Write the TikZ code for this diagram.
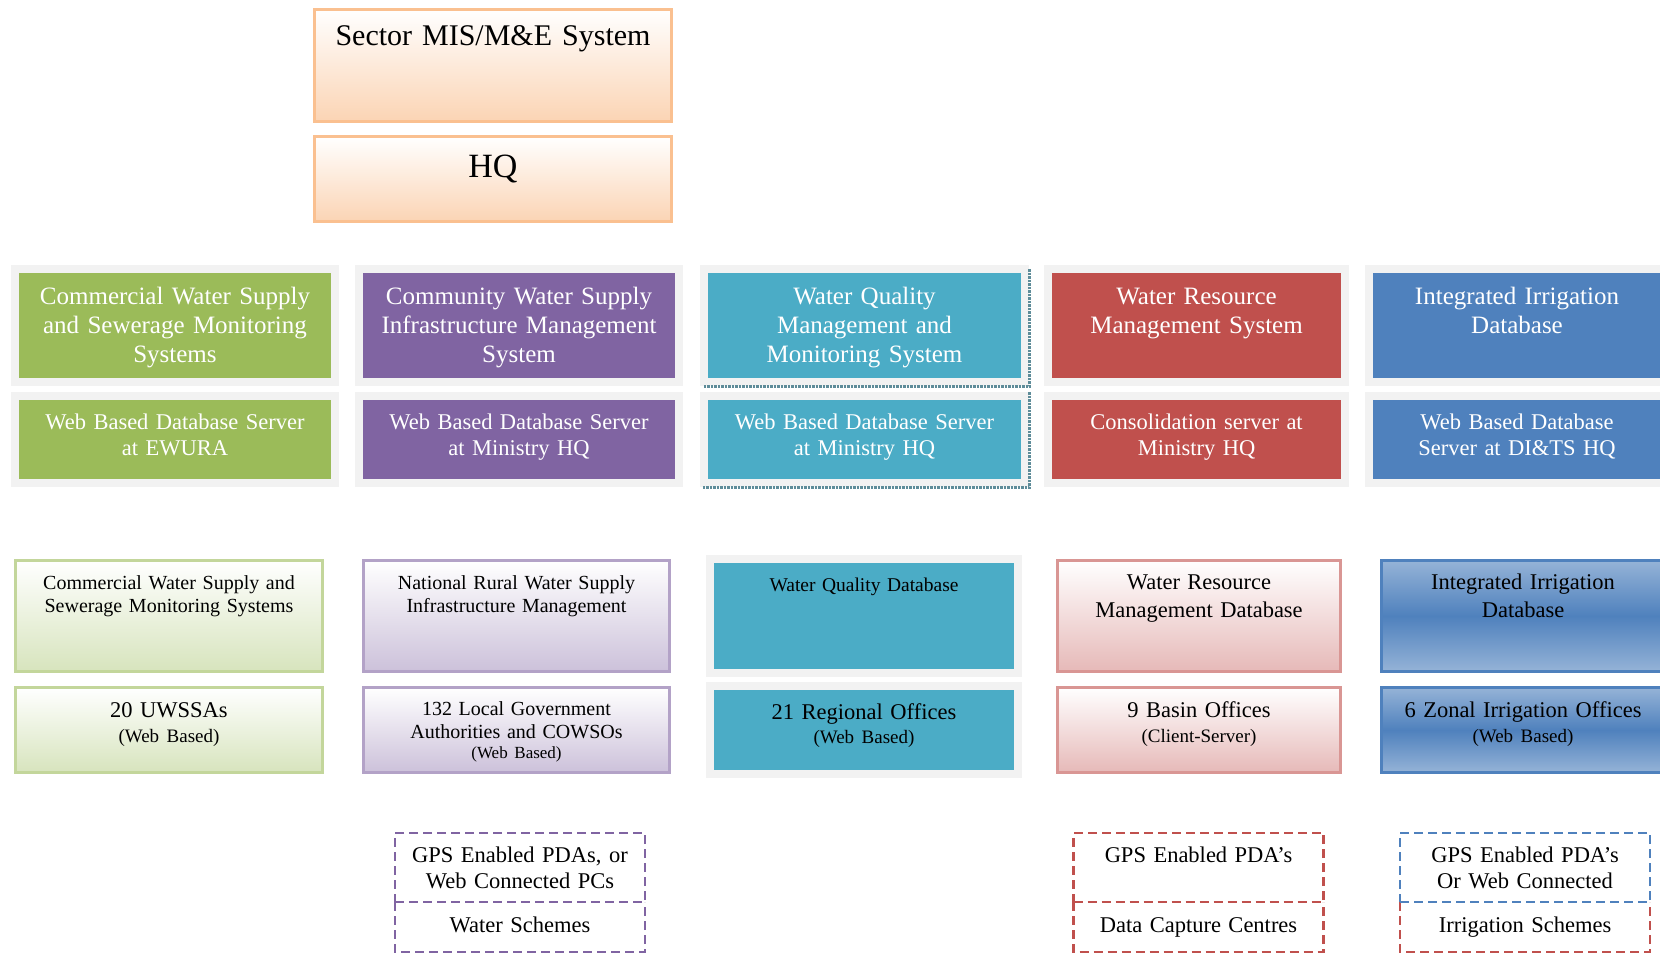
\documentclass[tikz,border=0pt]{standalone}
\usepackage{fontspec}
\setmainfont{Liberation Serif}
\usetikzlibrary{positioning}

\definecolor{panelgray}{HTML}{F2F2F2}
\definecolor{peachline}{HTML}{FAC090}
\definecolor{peachfill}{HTML}{FBD4B4}
\definecolor{accgreen}{HTML}{9BBB59}
\definecolor{accpurple}{HTML}{8064A2}
\definecolor{accteal}{HTML}{4BACC6}
\definecolor{accred}{HTML}{C0504D}
\definecolor{accblue}{HTML}{4F81BD}
\definecolor{greenline}{HTML}{C3D69B}
\definecolor{greenfill}{HTML}{D7E4BD}
\definecolor{purpleline}{HTML}{B3A2C7}
\definecolor{purplefill}{HTML}{CCC1DA}
\definecolor{redline}{HTML}{D99694}
\definecolor{redfill}{HTML}{E6B9B8}
\definecolor{bluelight}{HTML}{95B3D7}
\definecolor{shadowteal}{HTML}{5E8C99}

\begin{document}
\begin{tikzpicture}[
    x=1pt, y=-1pt,
    every node/.style={inner sep=0pt, outer sep=0pt, align=center},
    hqbox/.style={draw=peachline, line width=3pt, top color=white, bottom color=peachfill, text width=357pt},
    sysbox/.style={fill=#1, text=white, preaction={draw=panelgray, line width=16pt}},
    systop/.style={text height=31pt, text depth=74pt, font=\fontsize{25}{29}\selectfont},
    syssrv/.style={text height=29pt, text depth=50pt, font=\fontsize{22.5}{26}\selectfont},
    dbbox/.style={draw=#1line, line width=3pt, top color=white, bottom color=#1fill},
    irrbox/.style={draw=accblue, line width=3pt, top color=bluelight, bottom color=bluelight, middle color=accblue},
    dbtop/.style={text height=28.5pt, text depth=82.5pt, font=\fontsize{20}{23}\selectfont},
    dbsite/.style={text height=29.5pt, text depth=55.5pt, font=\fontsize{22.5}{25}\selectfont},
    gpsline/.style={draw=#1, dash pattern=on 9pt off 5pt, line width=2.5pt},
    gpsbox/.style={text width=250pt, font=\fontsize{22.5}{26}\selectfont},
    gpstop/.style={text height=29pt, text depth=40pt},
    gpsend/.style={text height=30pt, text depth=20pt}
]

\useasboundingbox (0,0) rectangle (1660,954);
\clip (0,0) rectangle (1660,954);

% Sector system and HQ (top)
\node[hqbox, anchor=north, text height=35.5pt, text depth=76.5pt, font=\fontsize{30}{36}\selectfont] (mis) at (493,9.5) {Sector MIS/M\&E System};
\node[hqbox, below=15pt of mis, text height=40.5pt, text depth=44.5pt, font=\fontsize{34}{40}\selectfont] (hq) {HQ};

% Systems and their servers
\node[sysbox=accgreen, systop, text width=312pt, anchor=north] (cwsSys) at (175,273) {Commercial Water Supply\\and Sewerage Monitoring\\Systems};
\node[sysbox=accgreen, syssrv, text width=312pt, below=22pt of cwsSys] (cwsSrv) {Web Based Database Server\\at EWURA};

\node[sysbox=accpurple, systop, text width=312pt, anchor=north] (rwsSys) at (519,273) {Community Water Supply\\Infrastructure Management\\System};
\node[sysbox=accpurple, syssrv, text width=312pt, below=22pt of rwsSys] (rwsSrv) {Web Based Database Server\\at Ministry HQ};

\node[sysbox=accteal, systop, text width=313pt, anchor=north] (wqSys) at (864.5,273) {Water Quality\\Management and\\Monitoring System};
\node[sysbox=accteal, syssrv, text width=313pt, below=22pt of wqSys] (wqSrv) {Web Based Database Server\\at Ministry HQ};

\node[sysbox=accred, systop, text width=289pt, anchor=north] (wrSys) at (1196.5,273) {Water Resource\\Management System};
\node[sysbox=accred, syssrv, text width=289pt, below=22pt of wrSys] (wrSrv) {Consolidation server at\\Ministry HQ};

\node[sysbox=accblue, systop, text width=288pt, anchor=north] (irSys) at (1517,273) {Integrated Irrigation\\Database};
\node[sysbox=accblue, syssrv, text width=288pt, below=22pt of irSys] (irSrv) {Web Based Database\\Server at DI\&TS HQ};

% shadow on the water quality panels
\draw[shadowteal, line width=2.5pt, densely dotted] ([xshift=8.5pt,yshift=4pt]wqSys.north east) -- ([xshift=8.5pt,yshift=-8.5pt]wqSys.south east) -- ([xshift=-5pt,yshift=-8.5pt]wqSys.south west);
\draw[shadowteal, line width=2.5pt, densely dotted] ([xshift=8.5pt,yshift=8pt]wqSrv.north east) -- ([xshift=8.5pt,yshift=-8.5pt]wqSrv.south east) -- ([xshift=-5pt,yshift=-8.5pt]wqSrv.south west);

% Databases and offices
\node[dbbox=green, dbtop, text width=307pt, anchor=north] (cwsDb) at (169,560.5) {Commercial Water Supply and\\Sewerage Monitoring Systems};
\node[dbbox=green, dbsite, text width=307pt, below=16pt of cwsDb] (cwsSite) {20 UWSSAs\\{\fontsize{19}{25}\selectfont(Web Based)}};

\node[dbbox=purple, dbtop, text width=306pt, anchor=north] (rwsDb) at (516.5,560.5) {National Rural Water Supply\\Infrastructure Management};
\node[dbbox=purple, dbsite, text width=306pt, below=16pt of rwsDb, text height=27.5pt, text depth=57.5pt, font=\fontsize{20}{23}\selectfont] (rwsSite) {132 Local Government\\Authorities and COWSOs\\[-3pt]{\fontsize{17}{20}\selectfont(Web Based)}};

\node[sysbox=accteal, text=black, text width=300pt, text height=28pt, text depth=78pt, font=\fontsize{19.5}{23}\selectfont, anchor=north] (wqDb) at (864,563) {Water Quality Database};
\node[sysbox=accteal, text=black, text width=300pt, text height=29pt, text depth=51pt, font=\fontsize{22.5}{24}\selectfont, below=21pt of wqDb] (wqSite) {21 Regional Offices\\{\fontsize{19}{24}\selectfont(Web Based)}};

\node[dbbox=red, dbtop, text width=283pt, font=\fontsize{22.5}{28}\selectfont, anchor=north] (wrDb) at (1199,560.5) {Water Resource\\Management Database};
\node[dbbox=red, dbsite, text width=283pt, below=16pt of wrDb] (wrSite) {9 Basin Offices\\{\fontsize{19}{25}\selectfont(Client-Server)}};

\node[irrbox, dbtop, text width=283pt, font=\fontsize{22.5}{28}\selectfont, anchor=north] (irDb) at (1523,560.5) {Integrated Irrigation\\Database};
\node[irrbox, dbsite, text width=283pt, below=16pt of irDb] (irSite) {6 Zonal Irrigation Offices\\{\fontsize{19}{25}\selectfont(Web Based)}};

% Field devices and schemes (bottom)
\node[gpsbox, gpsend, anchor=north] (rwsScheme) at (520,902) {Water Schemes};
\draw[gpsline=accpurple] (rwsScheme.north west) -- (rwsScheme.south west) -- (rwsScheme.south east) -- (rwsScheme.north east);
\node[gpsbox, gpsline=accpurple, gpstop, above=0pt of rwsScheme] (rwsGps) {GPS Enabled PDAs, or\\Web Connected PCs};

\node[gpsbox, gpsend, anchor=north] (wrCentre) at (1198.5,902) {Data Capture Centres};
\draw[gpsline=accred] (wrCentre.north west) -- (wrCentre.south west) -- (wrCentre.south east) -- (wrCentre.north east);
\node[gpsbox, gpsline=accred, gpstop, above=0pt of wrCentre] (wrGps) {GPS Enabled PDA’s};

\node[gpsbox, gpsend, anchor=north] (irScheme) at (1525,902) {Irrigation Schemes};
\draw[gpsline=accred] (irScheme.north west) -- (irScheme.south west) -- (irScheme.south east) -- (irScheme.north east);
\node[gpsbox, gpsline=accblue, gpstop, above=0pt of irScheme] (irGps) {GPS Enabled PDA’s\\Or Web Connected};

\end{tikzpicture}
\end{document}
